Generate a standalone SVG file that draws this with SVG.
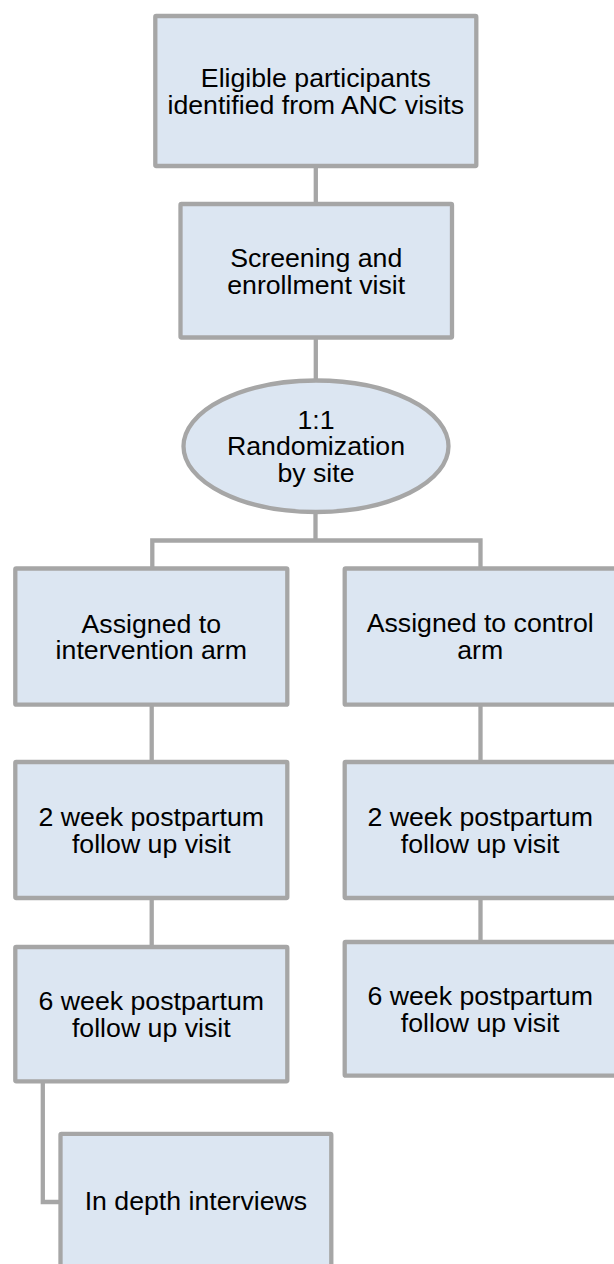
<svg xmlns="http://www.w3.org/2000/svg" width="614" height="1264" viewBox="0 0 614 1264">
<style>
.box{fill:#dce6f2;stroke:#a6a6a6;stroke-width:4.3}
.c{fill:none;stroke:#a6a6a6;stroke-width:4.3}
.t{font-family:"Liberation Sans",Arial,sans-serif;font-size:26.7px;fill:#000;text-anchor:middle}
</style>
<rect width="614" height="1264" fill="#ffffff"/>
<g id="connectors">
<path class="c" d="M315.8 166 V204"/>
<path class="c" d="M315.8 337.5 V380.5"/>
<path class="c" d="M315.5 512 V540.5"/>
<path class="c" d="M152.3 568.5 V540.5 H480.5 V568.5"/>
<path class="c" d="M151.7 704.7 V762"/>
<path class="c" d="M480.5 704.7 V762"/>
<path class="c" d="M151.7 898 V947"/>
<path class="c" d="M480.5 898 V942"/>
<path class="c" d="M42.8 1081.3 V1202 H60.5"/>
</g>
<g id="n1">
<rect class="box" x="155.3" y="16" width="321" height="150" rx="1"/>
<text class="t" x="315.8" y="87">Eligible participants</text>
<text class="t" x="315.8" y="113.6">identified from ANC visits</text>
</g>
<g id="n2">
<rect class="box" x="180.5" y="204" width="271.5" height="133.5" rx="1"/>
<text class="t" x="316.2" y="267">Screening and</text>
<text class="t" x="316.2" y="293.6">enrollment visit</text>
</g>
<g id="n3">
<ellipse class="box" cx="316" cy="446.25" rx="132.5" ry="65.75"/>
<text class="t" x="316" y="428.6">1:1</text>
<text class="t" x="316" y="455.2">Randomization</text>
<text class="t" x="316" y="481.8">by site</text>
</g>
<g id="n4">
<rect class="box" x="15.3" y="568.5" width="272" height="136.2" rx="1"/>
<text class="t" x="151.3" y="632.8">Assigned to</text>
<text class="t" x="151.3" y="659.4">intervention arm</text>
</g>
<g id="n5">
<rect class="box" x="344.7" y="568.5" width="272" height="136.2" rx="1"/>
<text class="t" x="480.2" y="632.2">Assigned to control</text>
<text class="t" x="480.2" y="658.8">arm</text>
</g>
<g id="n6">
<rect class="box" x="15.3" y="762" width="272" height="136" rx="1"/>
<text class="t" x="151.3" y="826.2">2 week postpartum</text>
<text class="t" x="151.3" y="852.8">follow up visit</text>
</g>
<g id="n7">
<rect class="box" x="344.7" y="762" width="272" height="136" rx="1"/>
<text class="t" x="480.2" y="826.2">2 week postpartum</text>
<text class="t" x="480.2" y="852.8">follow up visit</text>
</g>
<g id="n8">
<rect class="box" x="15.3" y="947" width="272" height="134.3" rx="1"/>
<text class="t" x="151.3" y="1010">6 week postpartum</text>
<text class="t" x="151.3" y="1036.6">follow up visit</text>
</g>
<g id="n9">
<rect class="box" x="344.7" y="942" width="272" height="133.7" rx="1"/>
<text class="t" x="480.2" y="1005">6 week postpartum</text>
<text class="t" x="480.2" y="1031.6">follow up visit</text>
</g>
<g id="n10">
<rect class="box" x="60.5" y="1133.8" width="270.8" height="136" rx="1"/>
<text class="t" x="195.9" y="1210">In depth interviews</text>
</g>
</svg>
